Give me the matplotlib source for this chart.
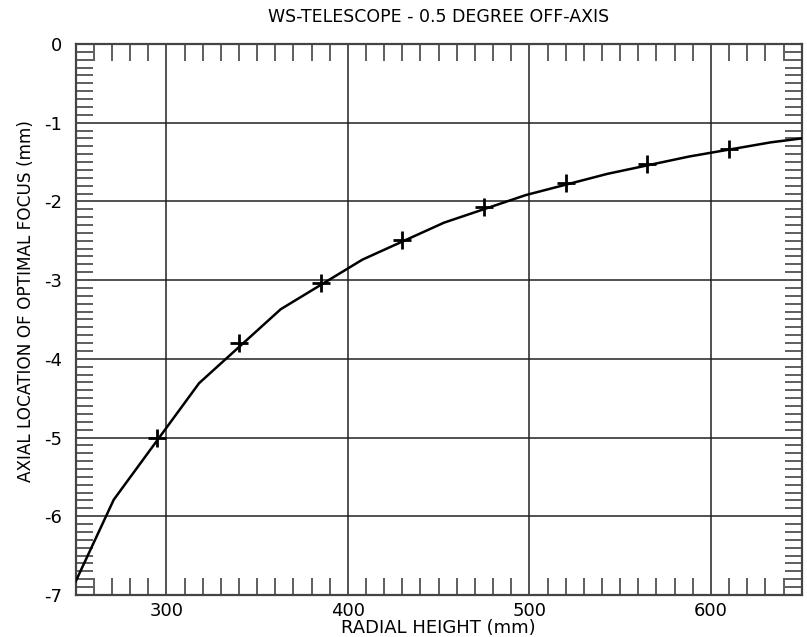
import numpy as np
import matplotlib.pyplot as plt
from matplotlib.ticker import MultipleLocator

plt.rcParams['axes.unicode_minus'] = False

# measured focus positions (markers)
radial_pts = [295, 340, 385, 430, 475, 520, 565, 610]
focus_pts = [-5.00, -3.80, -3.04, -2.49, -2.07, -1.77, -1.53, -1.34]

# fitted focus curve
radial_fit = [250, 271, 318, 363, 408, 453, 498, 543, 588, 633, 650]
focus_fit = [-6.83, -5.79, -4.31, -3.37, -2.74, -2.27, -1.92, -1.65, -1.43, -1.25, -1.20]

fig = plt.figure(figsize=(8.07, 6.37), dpi=100)
ax = fig.add_axes([0.0937, 0.066, 0.8997, 0.865])

ax.plot(radial_fit, focus_fit, color='black', lw=1.8, zorder=3)
ax.plot(radial_pts, focus_pts, linestyle='none', marker='+', color='black',
        markersize=13, markeredgewidth=2.0, zorder=4)

ax.set_xlim(250, 650)
ax.set_ylim(-7, 0)
ax.xaxis.set_major_locator(MultipleLocator(100))
ax.xaxis.set_minor_locator(MultipleLocator(10))
ax.yaxis.set_major_locator(MultipleLocator(1))
ax.yaxis.set_minor_locator(MultipleLocator(0.1))

ax.grid(True, which='major', color='#222222', lw=1.1)
ax.tick_params(which='both', direction='in', top=True, right=True,
               color='#333333', width=1.1, labelsize=13)
ax.tick_params(which='major', length=0)
ax.tick_params(which='minor', length=12)
ax.tick_params(axis='x', which='major', pad=5)
ax.tick_params(axis='y', which='major', pad=10)
for s in ax.spines.values():
    s.set_color('#444444')
    s.set_linewidth(1.6)

ax.set_title('WS-TELESCOPE - 0.5 DEGREE OFF-AXIS', fontsize=12.5, pad=16)
ax.set_xlabel('RADIAL HEIGHT (mm)', fontsize=13, labelpad=-1)
ax.set_ylabel('AXIAL LOCATION OF OPTIMAL FOCUS (mm)', fontsize=12.2, labelpad=6)
ax.yaxis.label.set_y(0.534)

fig.savefig('out.png', dpi=100)
